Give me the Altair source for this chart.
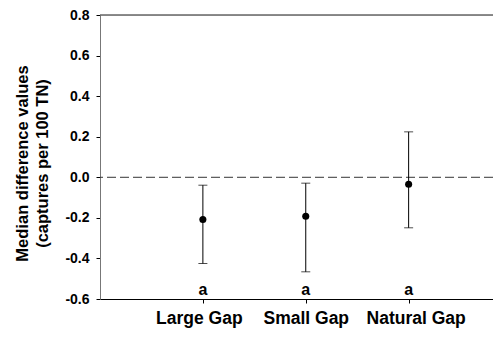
import altair as alt
import pandas as pd

categories = ["Large Gap", "Small Gap", "Natural Gap"]
positions = [1, 2, 3]
medians = [-0.208, -0.192, -0.034]
lower = [-0.425, -0.466, -0.249]
upper = [-0.039, -0.029, 0.224]
letters = ["a", "a", "a"]
y_ticks = [-0.6, -0.4, -0.2, 0.0, 0.2, 0.4, 0.6, 0.8]

df = pd.DataFrame({"pos": positions, "cat": categories, "med": medians,
                   "lo": lower, "hi": upper, "letter": letters})

FONT = "Arial, Liberation Sans, sans-serif"

xscale = alt.Scale(domain=[0, 3.82], nice=False, zero=False)
yscale = alt.Scale(domain=[-0.6, 0.8], nice=False, zero=False)

label_expr = "datum.value == 1 ? 'Large Gap' : datum.value == 2 ? 'Small Gap' : datum.value == 3 ? 'Natural Gap' : ''"

base = alt.Chart(df)

x_enc = alt.X("pos:Q", scale=xscale, axis=alt.Axis(
    values=positions, labelExpr=label_expr, title=None, grid=False,
    domainColor="black", tickColor="black", tickSize=4, labelPadding=6.5,
    labelOffset={"condition": [{"test": "datum.value == 1", "value": -4},
                               {"test": "datum.value == 3", "value": 7}],
                 "value": 0},
    labelFont=FONT, labelFontSize=17.5, labelFontWeight="bold", labelColor="black",
    labelFlush=False, labelOverlap=False))

points = base.mark_circle(size=50, color="black", opacity=1).encode(
    x=x_enc,
    y=alt.Y("med:Q", scale=yscale, axis=alt.Axis(
        values=y_ticks, labelExpr="replace(format(datum.value, '.1f'), '\u2212', '-')",
        title=["Median difference values", "(captures per 100 TN)"],
        titleFont=FONT, titleFontSize=16.5, titleFontWeight="bold", titleColor="black",
        titleX=-70, titleY=148, titleLineHeight=20,
        grid=False, domainColor="#777777", tickColor="black", tickSize=4, labelPadding=7,
        labelFont=FONT, labelFontSize=14, labelFontWeight="bold", labelColor="black")),
)

bars = base.mark_rule(color="black", strokeWidth=1).encode(
    x=alt.X("pos:Q", scale=xscale), y=alt.Y("lo:Q", scale=yscale), y2="hi:Q")

caps_lo = base.mark_tick(color="black", thickness=1, size=9, orient="horizontal").encode(
    x=alt.X("pos:Q", scale=xscale), y=alt.Y("lo:Q", scale=yscale))
caps_hi = base.mark_tick(color="black", thickness=1, size=9, orient="horizontal").encode(
    x=alt.X("pos:Q", scale=xscale), y=alt.Y("hi:Q", scale=yscale))

zero_line = alt.Chart(pd.DataFrame({"v": [0.0]})).mark_rule(
    color="#333333", strokeDash=[9, 4], strokeWidth=1).encode(
    y=alt.Y("v:Q", scale=yscale))

top_line = alt.Chart(pd.DataFrame({"v": [0.8]})).mark_rule(
    color="#666666", strokeWidth=1.5).encode(
    y=alt.Y("v:Q", scale=yscale))

text = base.mark_text(font=FONT, fontSize=16, fontWeight="bold", color="black",
                      baseline="bottom", dy=-1).encode(
    x=alt.X("pos:Q", scale=xscale), y=alt.YDatum(-0.6), text="letter:N")

chart = alt.layer(zero_line, top_line, bars, caps_lo, caps_hi, points, text).properties(
    width=393, height=284,
    autosize=alt.AutoSizeParams(type="none"),
    padding={"left": 92, "top": 7, "right": 0, "bottom": 30},
).configure_view(stroke=None).configure(background="white")

chart.save("out.html", embed_options={"renderer": "svg", "actions": False})
